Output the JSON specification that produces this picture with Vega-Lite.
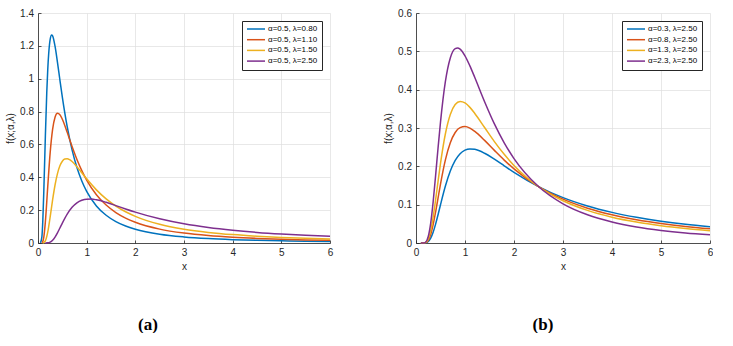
{
  "$schema": "https://vega.github.io/schema/vega-lite/v6.json",
  "padding": {"left": 5, "top": 8, "right": 0, "bottom": 0},
  "background": "white",
  "bounds": "flush",
  "spacing": 86,
  "config": {
    "view": {"stroke": null},
    "axis": {
      "domainColor": "#262626", "domainWidth": 0.8,
      "tickColor": "#262626", "tickSize": -3, "tickWidth": 0.8,
      "labelColor": "#262626", "labelFont": "Liberation Sans", "labelFontSize": 10,
      "titleFont": "Liberation Sans", "titleFontSize": 10, "titleFontWeight": "normal", "titleColor": "#262626",
      "gridColor": "#dedede", "gridWidth": 0.7, "labelPadding": 7.5
    },
    "legend": {
      "title": null, "orient": "top-right", "offset": 8,
      "fillColor": "white", "strokeColor": "#262626", "padding": 4,
      "symbolType": "M-3,0H3", "symbolSize": 36, "symbolStrokeWidth": 1.5,
      "labelFont": "Liberation Sans", "labelFontSize": 8, "labelColor": "#000000",
      "labelOffset": 8, "symbolOffset": 6, "rowPadding": 2.7
    },
    "title": {"font": "Liberation Serif", "fontSize": 17, "fontWeight": "bold", "color": "#000000"}
  },
  "datasets": {
    "a": [
      {"x":0.05,"f":0.0004,"s":"α=0.5, λ=0.80"},{"x":0.08,"f":0.0376,"s":"α=0.5, λ=0.80"},{"x":0.1,"f":0.1443,"s":"α=0.5, λ=0.80"},{"x":0.12,"f":0.3211,"s":"α=0.5, λ=0.80"},{"x":0.15,"f":0.6366,"s":"α=0.5, λ=0.80"},{"x":0.18,"f":0.9142,"s":"α=0.5, λ=0.80"},{"x":0.2,"f":1.0532,"s":"α=0.5, λ=0.80"},{"x":0.22,"f":1.1531,"s":"α=0.5, λ=0.80"},{"x":0.25,"f":1.2392,"s":"α=0.5, λ=0.80"},{"x":0.28,"f":1.2663,"s":"α=0.5, λ=0.80"},{"x":0.3,"f":1.261,"s":"α=0.5, λ=0.80"},{"x":0.35,"f":1.1979,"s":"α=0.5, λ=0.80"},{"x":0.4,"f":1.0996,"s":"α=0.5, λ=0.80"},{"x":0.45,"f":0.9923,"s":"α=0.5, λ=0.80"},{"x":0.5,"f":0.8884,"s":"α=0.5, λ=0.80"},{"x":0.6,"f":0.7078,"s":"α=0.5, λ=0.80"},{"x":0.7,"f":0.5672,"s":"α=0.5, λ=0.80"},{"x":0.8,"f":0.4599,"s":"α=0.5, λ=0.80"},{"x":0.9,"f":0.3778,"s":"α=0.5, λ=0.80"},{"x":1.0,"f":0.3145,"s":"α=0.5, λ=0.80"},{"x":1.2,"f":0.2258,"s":"α=0.5, λ=0.80"},{"x":1.4,"f":0.1688,"s":"α=0.5, λ=0.80"},{"x":1.6,"f":0.1303,"s":"α=0.5, λ=0.80"},{"x":1.8,"f":0.1033,"s":"α=0.5, λ=0.80"},{"x":2.0,"f":0.0838,"s":"α=0.5, λ=0.80"},{"x":2.5,"f":0.0534,"s":"α=0.5, λ=0.80"},{"x":3.0,"f":0.0369,"s":"α=0.5, λ=0.80"},{"x":3.5,"f":0.0269,"s":"α=0.5, λ=0.80"},{"x":4.0,"f":0.0205,"s":"α=0.5, λ=0.80"},{"x":4.5,"f":0.0161,"s":"α=0.5, λ=0.80"},{"x":5.0,"f":0.013,"s":"α=0.5, λ=0.80"},{"x":5.5,"f":0.0107,"s":"α=0.5, λ=0.80"},{"x":6.0,"f":0.0089,"s":"α=0.5, λ=0.80"},
      {"x":0.08,"f":0.0013,"s":"α=0.5, λ=1.10"},{"x":0.1,"f":0.0102,"s":"α=0.5, λ=1.10"},{"x":0.12,"f":0.0376,"s":"α=0.5, λ=1.10"},{"x":0.15,"f":0.1239,"s":"α=0.5, λ=1.10"},{"x":0.2,"f":0.3423,"s":"α=0.5, λ=1.10"},{"x":0.25,"f":0.55,"s":"α=0.5, λ=1.10"},{"x":0.3,"f":0.6911,"s":"α=0.5, λ=1.10"},{"x":0.35,"f":0.7651,"s":"α=0.5, λ=1.10"},{"x":0.4,"f":0.7891,"s":"α=0.5, λ=1.10"},{"x":0.45,"f":0.7809,"s":"α=0.5, λ=1.10"},{"x":0.5,"f":0.7535,"s":"α=0.5, λ=1.10"},{"x":0.6,"f":0.6736,"s":"α=0.5, λ=1.10"},{"x":0.7,"f":0.5875,"s":"α=0.5, λ=1.10"},{"x":0.8,"f":0.5086,"s":"α=0.5, λ=1.10"},{"x":0.9,"f":0.4405,"s":"α=0.5, λ=1.10"},{"x":1.0,"f":0.3828,"s":"α=0.5, λ=1.10"},{"x":1.2,"f":0.2939,"s":"α=0.5, λ=1.10"},{"x":1.4,"f":0.2309,"s":"α=0.5, λ=1.10"},{"x":1.6,"f":0.1854,"s":"α=0.5, λ=1.10"},{"x":1.8,"f":0.1517,"s":"α=0.5, λ=1.10"},{"x":2.0,"f":0.1262,"s":"α=0.5, λ=1.10"},{"x":2.5,"f":0.0845,"s":"α=0.5, λ=1.10"},{"x":3.0,"f":0.0603,"s":"α=0.5, λ=1.10"},{"x":3.5,"f":0.0451,"s":"α=0.5, λ=1.10"},{"x":4.0,"f":0.035,"s":"α=0.5, λ=1.10"},{"x":4.5,"f":0.0279,"s":"α=0.5, λ=1.10"},{"x":5.0,"f":0.0228,"s":"α=0.5, λ=1.10"},{"x":5.5,"f":0.019,"s":"α=0.5, λ=1.10"},{"x":6.0,"f":0.016,"s":"α=0.5, λ=1.10"},
      {"x":0.1,"f":0.0003,"s":"α=0.5, λ=1.50"},{"x":0.15,"f":0.0121,"s":"α=0.5, λ=1.50"},{"x":0.2,"f":0.0657,"s":"α=0.5, λ=1.50"},{"x":0.25,"f":0.1586,"s":"α=0.5, λ=1.50"},{"x":0.3,"f":0.262,"s":"α=0.5, λ=1.50"},{"x":0.35,"f":0.3531,"s":"α=0.5, λ=1.50"},{"x":0.4,"f":0.4226,"s":"α=0.5, λ=1.50"},{"x":0.45,"f":0.4698,"s":"α=0.5, λ=1.50"},{"x":0.5,"f":0.4979,"s":"α=0.5, λ=1.50"},{"x":0.55,"f":0.511,"s":"α=0.5, λ=1.50"},{"x":0.6,"f":0.513,"s":"α=0.5, λ=1.50"},{"x":0.65,"f":0.5072,"s":"α=0.5, λ=1.50"},{"x":0.7,"f":0.496,"s":"α=0.5, λ=1.50"},{"x":0.8,"f":0.4643,"s":"α=0.5, λ=1.50"},{"x":0.9,"f":0.4275,"s":"α=0.5, λ=1.50"},{"x":1.0,"f":0.3905,"s":"α=0.5, λ=1.50"},{"x":1.2,"f":0.3233,"s":"α=0.5, λ=1.50"},{"x":1.4,"f":0.2684,"s":"α=0.5, λ=1.50"},{"x":1.6,"f":0.2247,"s":"α=0.5, λ=1.50"},{"x":1.8,"f":0.19,"s":"α=0.5, λ=1.50"},{"x":2.0,"f":0.1624,"s":"α=0.5, λ=1.50"},{"x":2.5,"f":0.1142,"s":"α=0.5, λ=1.50"},{"x":3.0,"f":0.0842,"s":"α=0.5, λ=1.50"},{"x":3.5,"f":0.0646,"s":"α=0.5, λ=1.50"},{"x":4.0,"f":0.051,"s":"α=0.5, λ=1.50"},{"x":4.5,"f":0.0413,"s":"α=0.5, λ=1.50"},{"x":5.0,"f":0.0341,"s":"α=0.5, λ=1.50"},{"x":5.5,"f":0.0286,"s":"α=0.5, λ=1.50"},{"x":6.0,"f":0.0243,"s":"α=0.5, λ=1.50"},
      {"x":0.15,"f":0.0,"s":"α=0.5, λ=2.50"},{"x":0.2,"f":0.0008,"s":"α=0.5, λ=2.50"},{"x":0.25,"f":0.0051,"s":"α=0.5, λ=2.50"},{"x":0.3,"f":0.0165,"s":"α=0.5, λ=2.50"},{"x":0.35,"f":0.036,"s":"α=0.5, λ=2.50"},{"x":0.4,"f":0.0618,"s":"α=0.5, λ=2.50"},{"x":0.45,"f":0.0912,"s":"α=0.5, λ=2.50"},{"x":0.5,"f":0.1213,"s":"α=0.5, λ=2.50"},{"x":0.6,"f":0.1759,"s":"α=0.5, λ=2.50"},{"x":0.7,"f":0.2172,"s":"α=0.5, λ=2.50"},{"x":0.8,"f":0.2446,"s":"α=0.5, λ=2.50"},{"x":0.9,"f":0.2602,"s":"α=0.5, λ=2.50"},{"x":1.0,"f":0.2668,"s":"α=0.5, λ=2.50"},{"x":1.1,"f":0.2671,"s":"α=0.5, λ=2.50"},{"x":1.2,"f":0.263,"s":"α=0.5, λ=2.50"},{"x":1.4,"f":0.2475,"s":"α=0.5, λ=2.50"},{"x":1.6,"f":0.2277,"s":"α=0.5, λ=2.50"},{"x":1.8,"f":0.2074,"s":"α=0.5, λ=2.50"},{"x":2.0,"f":0.188,"s":"α=0.5, λ=2.50"},{"x":2.5,"f":0.1472,"s":"α=0.5, λ=2.50"},{"x":3.0,"f":0.1167,"s":"α=0.5, λ=2.50"},{"x":3.5,"f":0.0942,"s":"α=0.5, λ=2.50"},{"x":4.0,"f":0.0774,"s":"α=0.5, λ=2.50"},{"x":4.5,"f":0.0645,"s":"α=0.5, λ=2.50"},{"x":5.0,"f":0.0546,"s":"α=0.5, λ=2.50"},{"x":5.5,"f":0.0467,"s":"α=0.5, λ=2.50"},{"x":6.0,"f":0.0404,"s":"α=0.5, λ=2.50"}
    ],
    "b": [
      {"x":0.1,"f":0.0,"s":"α=0.3, λ=2.50"},{"x":0.15,"f":0.0,"s":"α=0.3, λ=2.50"},{"x":0.2,"f":0.0006,"s":"α=0.3, λ=2.50"},{"x":0.25,"f":0.0038,"s":"α=0.3, λ=2.50"},{"x":0.3,"f":0.0126,"s":"α=0.3, λ=2.50"},{"x":0.35,"f":0.028,"s":"α=0.3, λ=2.50"},{"x":0.4,"f":0.0492,"s":"α=0.3, λ=2.50"},{"x":0.45,"f":0.0738,"s":"α=0.3, λ=2.50"},{"x":0.5,"f":0.0997,"s":"α=0.3, λ=2.50"},{"x":0.6,"f":0.1486,"s":"α=0.3, λ=2.50"},{"x":0.7,"f":0.1877,"s":"α=0.3, λ=2.50"},{"x":0.8,"f":0.2154,"s":"α=0.3, λ=2.50"},{"x":0.9,"f":0.2329,"s":"α=0.3, λ=2.50"},{"x":1.0,"f":0.2422,"s":"α=0.3, λ=2.50"},{"x":1.1,"f":0.2454,"s":"α=0.3, λ=2.50"},{"x":1.2,"f":0.2443,"s":"α=0.3, λ=2.50"},{"x":1.4,"f":0.2341,"s":"α=0.3, λ=2.50"},{"x":1.6,"f":0.2185,"s":"α=0.3, λ=2.50"},{"x":1.8,"f":0.2014,"s":"α=0.3, λ=2.50"},{"x":2.0,"f":0.1844,"s":"α=0.3, λ=2.50"},{"x":2.5,"f":0.1472,"s":"α=0.3, λ=2.50"},{"x":3.0,"f":0.1183,"s":"α=0.3, λ=2.50"},{"x":3.5,"f":0.0965,"s":"α=0.3, λ=2.50"},{"x":4.0,"f":0.0799,"s":"α=0.3, λ=2.50"},{"x":4.5,"f":0.0671,"s":"α=0.3, λ=2.50"},{"x":5.0,"f":0.057,"s":"α=0.3, λ=2.50"},{"x":5.5,"f":0.049,"s":"α=0.3, λ=2.50"},{"x":6.0,"f":0.0426,"s":"α=0.3, λ=2.50"},
      {"x":0.1,"f":0.0,"s":"α=0.8, λ=2.50"},{"x":0.15,"f":0.0,"s":"α=0.8, λ=2.50"},{"x":0.2,"f":0.0011,"s":"α=0.8, λ=2.50"},{"x":0.25,"f":0.0071,"s":"α=0.8, λ=2.50"},{"x":0.3,"f":0.0223,"s":"α=0.8, λ=2.50"},{"x":0.35,"f":0.0479,"s":"α=0.8, λ=2.50"},{"x":0.4,"f":0.0808,"s":"α=0.8, λ=2.50"},{"x":0.45,"f":0.1173,"s":"α=0.8, λ=2.50"},{"x":0.5,"f":0.1536,"s":"α=0.8, λ=2.50"},{"x":0.6,"f":0.2168,"s":"α=0.8, λ=2.50"},{"x":0.7,"f":0.2615,"s":"α=0.8, λ=2.50"},{"x":0.8,"f":0.2883,"s":"α=0.8, λ=2.50"},{"x":0.9,"f":0.3011,"s":"α=0.8, λ=2.50"},{"x":1.0,"f":0.3037,"s":"α=0.8, λ=2.50"},{"x":1.1,"f":0.2996,"s":"α=0.8, λ=2.50"},{"x":1.2,"f":0.2911,"s":"α=0.8, λ=2.50"},{"x":1.4,"f":0.2677,"s":"α=0.8, λ=2.50"},{"x":1.6,"f":0.2416,"s":"α=0.8, λ=2.50"},{"x":1.8,"f":0.2163,"s":"α=0.8, λ=2.50"},{"x":2.0,"f":0.1934,"s":"α=0.8, λ=2.50"},{"x":2.5,"f":0.1472,"s":"α=0.8, λ=2.50"},{"x":3.0,"f":0.1143,"s":"α=0.8, λ=2.50"},{"x":3.5,"f":0.0908,"s":"α=0.8, λ=2.50"},{"x":4.0,"f":0.0736,"s":"α=0.8, λ=2.50"},{"x":4.5,"f":0.0608,"s":"α=0.8, λ=2.50"},{"x":5.0,"f":0.051,"s":"α=0.8, λ=2.50"},{"x":5.5,"f":0.0433,"s":"α=0.8, λ=2.50"},{"x":6.0,"f":0.0372,"s":"α=0.8, λ=2.50"},
      {"x":0.1,"f":0.0,"s":"α=1.3, λ=2.50"},{"x":0.15,"f":0.0,"s":"α=1.3, λ=2.50"},{"x":0.2,"f":0.0016,"s":"α=1.3, λ=2.50"},{"x":0.25,"f":0.0103,"s":"α=1.3, λ=2.50"},{"x":0.3,"f":0.0321,"s":"α=1.3, λ=2.50"},{"x":0.35,"f":0.0677,"s":"α=1.3, λ=2.50"},{"x":0.4,"f":0.1125,"s":"α=1.3, λ=2.50"},{"x":0.45,"f":0.1608,"s":"α=1.3, λ=2.50"},{"x":0.5,"f":0.2075,"s":"α=1.3, λ=2.50"},{"x":0.6,"f":0.285,"s":"α=1.3, λ=2.50"},{"x":0.7,"f":0.3353,"s":"α=1.3, λ=2.50"},{"x":0.8,"f":0.3613,"s":"α=1.3, λ=2.50"},{"x":0.9,"f":0.3693,"s":"α=1.3, λ=2.50"},{"x":1.0,"f":0.3653,"s":"α=1.3, λ=2.50"},{"x":1.1,"f":0.3538,"s":"α=1.3, λ=2.50"},{"x":1.2,"f":0.3379,"s":"α=1.3, λ=2.50"},{"x":1.4,"f":0.3013,"s":"α=1.3, λ=2.50"},{"x":1.6,"f":0.2646,"s":"α=1.3, λ=2.50"},{"x":1.8,"f":0.2313,"s":"α=1.3, λ=2.50"},{"x":2.0,"f":0.2024,"s":"α=1.3, λ=2.50"},{"x":2.5,"f":0.1472,"s":"α=1.3, λ=2.50"},{"x":3.0,"f":0.1103,"s":"α=1.3, λ=2.50"},{"x":3.5,"f":0.0851,"s":"α=1.3, λ=2.50"},{"x":4.0,"f":0.0673,"s":"α=1.3, λ=2.50"},{"x":4.5,"f":0.0545,"s":"α=1.3, λ=2.50"},{"x":5.0,"f":0.0449,"s":"α=1.3, λ=2.50"},{"x":5.5,"f":0.0376,"s":"α=1.3, λ=2.50"},{"x":6.0,"f":0.0319,"s":"α=1.3, λ=2.50"},
      {"x":0.1,"f":0.0,"s":"α=2.3, λ=2.50"},{"x":0.15,"f":0.0,"s":"α=2.3, λ=2.50"},{"x":0.2,"f":0.0027,"s":"α=2.3, λ=2.50"},{"x":0.25,"f":0.0169,"s":"α=2.3, λ=2.50"},{"x":0.3,"f":0.0517,"s":"α=2.3, λ=2.50"},{"x":0.35,"f":0.1073,"s":"α=2.3, λ=2.50"},{"x":0.4,"f":0.1759,"s":"α=2.3, λ=2.50"},{"x":0.45,"f":0.2478,"s":"α=2.3, λ=2.50"},{"x":0.5,"f":0.3153,"s":"α=2.3, λ=2.50"},{"x":0.6,"f":0.4214,"s":"α=2.3, λ=2.50"},{"x":0.7,"f":0.4828,"s":"α=2.3, λ=2.50"},{"x":0.8,"f":0.5072,"s":"α=2.3, λ=2.50"},{"x":0.85,"f":0.509,"s":"α=2.3, λ=2.50"},{"x":0.9,"f":0.5058,"s":"α=2.3, λ=2.50"},{"x":1.0,"f":0.4884,"s":"α=2.3, λ=2.50"},{"x":1.1,"f":0.4621,"s":"α=2.3, λ=2.50"},{"x":1.2,"f":0.4316,"s":"α=2.3, λ=2.50"},{"x":1.4,"f":0.3685,"s":"α=2.3, λ=2.50"},{"x":1.6,"f":0.3106,"s":"α=2.3, λ=2.50"},{"x":1.8,"f":0.2612,"s":"α=2.3, λ=2.50"},{"x":2.0,"f":0.2203,"s":"α=2.3, λ=2.50"},{"x":2.5,"f":0.1472,"s":"α=2.3, λ=2.50"},{"x":3.0,"f":0.1022,"s":"α=2.3, λ=2.50"},{"x":3.5,"f":0.0736,"s":"α=2.3, λ=2.50"},{"x":4.0,"f":0.0548,"s":"α=2.3, λ=2.50"},{"x":4.5,"f":0.0419,"s":"α=2.3, λ=2.50"},{"x":5.0,"f":0.0328,"s":"α=2.3, λ=2.50"},{"x":5.5,"f":0.0261,"s":"α=2.3, λ=2.50"},{"x":6.0,"f":0.0212,"s":"α=2.3, λ=2.50"}
    ]
  },
  "resolve": {"scale": {"color": "independent"}, "legend": {"color": "independent"}},
  "hconcat": [
    {
      "width": 292, "height": 230,
      "data": {"name": "a"},
      "title": {"text": "(a)", "orient": "bottom", "anchor": "middle", "frame": "group", "offset": 45, "dx": -36, "font": "Liberation Serif", "fontSize": 17, "fontWeight": "bold"},
      "mark": {"type": "line", "interpolate": "monotone", "strokeWidth": 1.5},
      "encoding": {
        "x": {"field": "x", "type": "quantitative", "scale": {"domain": [0, 6]},
              "axis": {"title": "x", "values": [0,1,2,3,4,5,6], "labelFlush": false, "format": "d"}},
        "y": {"field": "f", "type": "quantitative", "scale": {"domain": [0, 1.4]},
              "axis": {"title": "f(x;α,λ)", "values": [0,0.2,0.4,0.6,0.8,1,1.2,1.4], "format": ".1~f", "labelFlush": false}},
        "color": {"field": "s", "type": "nominal",
                  "scale": {"domain": ["α=0.5, λ=0.80","α=0.5, λ=1.10","α=0.5, λ=1.50","α=0.5, λ=2.50"],
                            "range": ["#0072BD","#D95319","#EDB120","#7E2F8E"]}}
      }
    },
    {
      "width": 294, "height": 230,
      "data": {"name": "b"},
      "title": {"text": "(b)", "orient": "bottom", "anchor": "middle", "frame": "group", "offset": 45, "dx": -20, "font": "Liberation Serif", "fontSize": 17, "fontWeight": "bold"},
      "mark": {"type": "line", "interpolate": "monotone", "strokeWidth": 1.5},
      "encoding": {
        "x": {"field": "x", "type": "quantitative", "scale": {"domain": [0, 6]},
              "axis": {"title": "x", "values": [0,1,2,3,4,5,6], "labelFlush": false, "format": "d"}},
        "y": {"field": "f", "type": "quantitative", "scale": {"domain": [0, 0.6]},
              "axis": {"title": "f(x;α,λ)", "values": [0,0.1,0.2,0.3,0.4,0.5,0.6], "format": ".1~f", "labelFlush": false}},
        "color": {"field": "s", "type": "nominal",
                  "scale": {"domain": ["α=0.3, λ=2.50","α=0.8, λ=2.50","α=1.3, λ=2.50","α=2.3, λ=2.50"],
                            "range": ["#0072BD","#D95319","#EDB120","#7E2F8E"]}}
      }
    }
  ]
}
